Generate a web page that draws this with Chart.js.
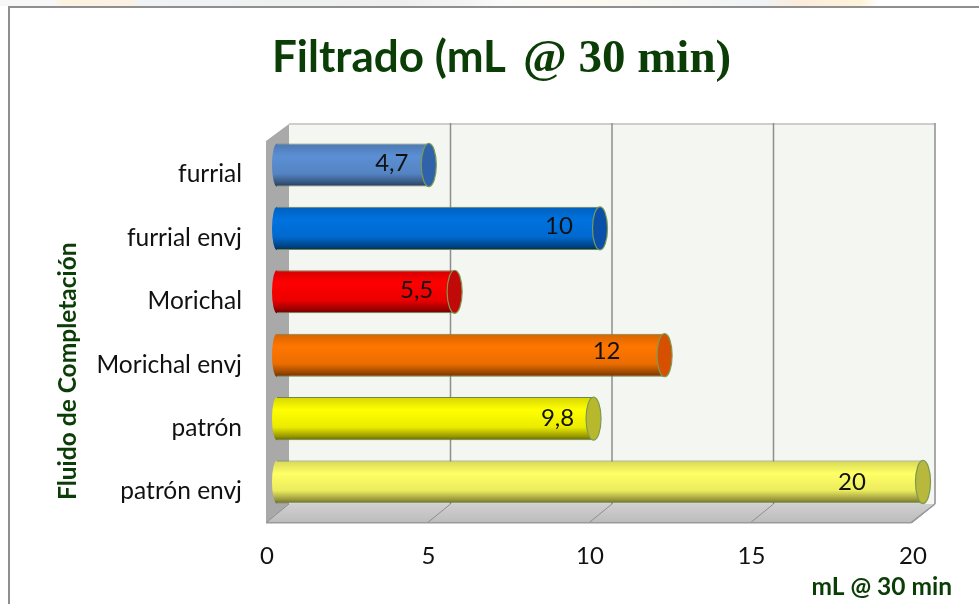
<!DOCTYPE html>
<html>
<head>
<meta charset="utf-8">
<title>Filtrado</title>
<script src="https://cdn.jsdelivr.net/npm/chart.js@4"></script>
<style>
    body { margin: 0; background: #fff; }
    #page { position: relative; width: 979px; height: 604px; overflow: hidden; }
    #strip { position: absolute; left: 0; top: 0; width: 979px; height: 6px;
        background: linear-gradient(to right, #f7f7f7 0, #f7f7f7 55px, #fdf3e2 60px, #fbf1e4 130px, #f0f3f4 140px, #eeeeee 400px, #f4f4f4 470px, #fafafa 500px, #fbf9f0 600px, #f0f3f6 760px, #fbecdc 800px, #fdf3da 860px, #ffffff 880px); }
    #frame { position: absolute; left: 8px; top: 6px; width: 980px; height: 610px; border-left: 2px solid #8f8f8f; border-top: 2px solid #8f8f8f; }
    canvas { position: absolute; left: 0; top: 0; }
</style>
</head>
<body>
<div id="page">
    <div id="strip"></div>
    <div id="frame"></div>
    <canvas id="chartFiltrado" width="979" height="604"></canvas>
</div>
<script>
var categories = ['furrial', 'furrial envj', 'Morichal', 'Morichal envj', 'patrón', 'patrón envj'];
var filtrado = [4.7, 10, 5.5, 12, 9.8, 20];
var xTicks = [0, 5, 10, 15, 20];
var barColors = ['#5b8fd4', '#0072e0', '#ff0000', '#ff7600', '#ffff00', '#ffff66'];
var capColors = ['#2f62a8', '#0a50a8', '#c00a0a', '#d65000', '#b8b82c', '#b8b83c'];

var DARK_GREEN = '#0b3d06';
var BAR_PERCENT = 0.68;
var CAP_RX = 7.5;
var BULGE_RX = 5;
var BACK_SHIFT = 12;
var FRONT_SHIFT = -11;
var labelShift = [-37, -41, -38, -58, -36, -71];
var labelRise = [-2, -2, -2, -4, 0, 0];

function mixBlack(hex, amount) {
    var n = parseInt(hex.slice(1), 16);
    var r = Math.round((n >> 16 & 255) * (1 - amount));
    var g = Math.round((n >> 8 & 255) * (1 - amount));
    var b = Math.round((n & 255) * (1 - amount));
    return 'rgb(' + r + ',' + g + ',' + b + ')';
}

function cylinderFill(ctx) {
    var chart = ctx.chart;
    var scale = chart.scales.y;
    if (!scale || !chart.chartArea) {
        return barColors[ctx.dataIndex];
    }
    var mid = scale.getPixelForValue(ctx.dataIndex);
    var half = scale.getPixelForValue(1) - scale.getPixelForValue(0);
    half = half * BAR_PERCENT / 2;
    var color = barColors[ctx.dataIndex];
    var gradient = chart.ctx.createLinearGradient(0, mid - half, 0, mid + half);
    gradient.addColorStop(0, mixBlack(color, 0.16));
    gradient.addColorStop(0.3, mixBlack(color, 0));
    gradient.addColorStop(0.7, mixBlack(color, 0.08));
    gradient.addColorStop(0.92, mixBlack(color, 0.42));
    gradient.addColorStop(1, mixBlack(color, 0.6));
    return gradient;
}

function polygon(ctx, points, fill) {
    ctx.beginPath();
    points.forEach(function(p, i) {
        if (i === 0) {
            ctx.moveTo(p[0], p[1]);
        } else {
            ctx.lineTo(p[0], p[1]);
        }
    });
    ctx.closePath();
    ctx.fillStyle = fill;
    ctx.fill();
}

// walls and floor of the 3d box, placed from the x scale
var boxPlugin = {
    id: 'box',
    beforeDatasetsDraw: function(chart) {
        var ctx = chart.ctx;
        var area = chart.chartArea;
        var x = chart.scales.x;
        var wallTop = area.top - 9.3;
        var wallBottom = area.bottom - 9.7;
        var floorFront = area.bottom + 9;
        var backLeft = x.getPixelForValue(0) + BACK_SHIFT;
        var backRight = x.getPixelForValue(20) + BACK_SHIFT;
        var frontLeft = x.getPixelForValue(0) + FRONT_SHIFT;
        var frontRight = x.getPixelForValue(20) + FRONT_SHIFT - 1;

        ctx.save();
        polygon(ctx, [[backLeft, wallTop], [backRight, wallTop], [backRight, wallBottom], [backLeft, wallBottom]], '#f3f6f1');
        ctx.fillStyle = '#cdcdcd';
        ctx.fillRect(backLeft, wallTop - 1, backRight - backLeft, 2);

        var floor = ctx.createLinearGradient(0, wallBottom, 0, floorFront);
        floor.addColorStop(0, '#d0d0d0');
        floor.addColorStop(1, '#bcbcbc');
        polygon(ctx, [[backLeft, wallBottom], [backRight, wallBottom], [frontRight, floorFront], [frontLeft, floorFront]], floor);
        polygon(ctx, [[frontLeft, wallTop + 17], [backLeft, wallTop], [backLeft, wallBottom], [frontLeft, floorFront]], '#a9a9a9');

        ctx.strokeStyle = '#8e8e8e';
        xTicks.forEach(function(tick) {
            var px = x.getPixelForValue(tick);
            if (tick > 0) {
                ctx.lineWidth = 1.5;
                ctx.beginPath();
                ctx.moveTo(px + BACK_SHIFT, wallTop - 1);
                ctx.lineTo(px + BACK_SHIFT, wallBottom);
                ctx.stroke();
            }
            ctx.lineWidth = 1;
            ctx.beginPath();
            ctx.moveTo(px + BACK_SHIFT, wallBottom);
            ctx.lineTo(px + FRONT_SHIFT, floorFront);
            ctx.stroke();
        });
        ctx.lineWidth = 1.5;
        ctx.strokeStyle = '#9a9a9a';
        ctx.beginPath();
        ctx.moveTo(frontLeft, floorFront);
        ctx.lineTo(frontRight, floorFront);
        ctx.lineTo(backRight, wallBottom);
        ctx.stroke();
        ctx.restore();
    }
};

// round ends of the cylinders, then the value labels over them
var cylinderPlugin = {
    id: 'cylinder',
    afterDatasetsDraw: function(chart) {
        var ctx = chart.ctx;
        var meta = chart.getDatasetMeta(0);

        ctx.save();
        meta.data.forEach(function(bar, i) {
            var half = bar.height / 2;
            var base = chart.scales.x.getPixelForValue(0);

            ctx.beginPath();
            ctx.ellipse(base, bar.y, BULGE_RX, half, 0, Math.PI / 2, Math.PI * 1.5);
            ctx.fillStyle = bar.options.backgroundColor;
            ctx.fill();

            ctx.beginPath();
            ctx.ellipse(bar.x, bar.y, CAP_RX, half, 0, 0, Math.PI * 2);
            ctx.fillStyle = capColors[i];
            ctx.fill();
            ctx.lineWidth = 1.2;
            ctx.strokeStyle = '#7c9a52';
            ctx.stroke();
        });

        ctx.fillStyle = '#111';
        ctx.font = '24px Lato';
        ctx.textAlign = 'center';
        ctx.textBaseline = 'middle';
        meta.data.forEach(function(bar, i) {
            ctx.fillText(filtrado[i].toLocaleString('es'), bar.x + labelShift[i], bar.y + labelRise[i]);
        });
        ctx.restore();
    }
};

// title has two fonts and the axis titles sit off centre, so they are set here
var titlesPlugin = {
    id: 'titles',
    afterDraw: function(chart) {
        var ctx = chart.ctx;
        ctx.save();
        ctx.fillStyle = DARK_GREEN;
        ctx.textBaseline = 'alphabetic';
        ctx.textAlign = 'left';
        ctx.font = 'bold 44px Lato';
        ctx.fillText('Filtrado (mL', 272, 72);
        ctx.font = 'bold 47px "Liberation Serif"';
        ctx.fillText('@ 30 min)', 523, 72);

        ctx.font = 'bold 24.5px Lato';
        ctx.textAlign = 'right';
        ctx.fillText('mL @ 30 min', 952, 595);

        ctx.translate(76, 500);
        ctx.rotate(-Math.PI / 2);
        ctx.textAlign = 'left';
        ctx.fillText('Fluido de Completación', 0, 0);
        ctx.restore();
    }
};

new Chart(document.getElementById('chartFiltrado'), {
    type: 'bar',
    plugins: [boxPlugin, cylinderPlugin, titlesPlugin],
    data: {
        labels: categories,
        datasets: [{
            data: filtrado,
            backgroundColor: cylinderFill,
            borderColor: '#6f8450',
            borderWidth: { top: 1, bottom: 1, left: 0, right: 0 },
            borderSkipped: false,
            barPercentage: BAR_PERCENT,
            categoryPercentage: 1
        }]
    },
    options: {
        indexAxis: 'y',
        responsive: false,
        animation: false,
        layout: {
            padding: { left: 0, right: 56, top: 133.3, bottom: 0 }
        },
        plugins: {
            legend: { display: false },
            title: { display: false },
            tooltip: { enabled: false }
        },
        scales: {
            x: {
                min: 0,
                max: 20,
                afterFit: function(scale) {
                    scale.height = 90.3;
                },
                afterBuildTicks: function(scale) {
                    scale.ticks = xTicks.map(function(v) {
                        return { value: v };
                    });
                },
                grid: { display: false },
                border: { display: false },
                ticks: {
                    padding: 20,
                    maxRotation: 0,
                    labelOffset: -10,
                    color: '#111',
                    font: { family: 'Lato', size: 24 }
                }
            },
            y: {
                afterFit: function(scale) {
                    scale.width = 277;
                },
                grid: { display: false },
                border: { display: false },
                ticks: {
                    padding: 27,
                    labelOffset: 9.5,
                    color: '#111',
                    font: { family: 'Lato', size: 24.5 }
                }
            }
        }
    }
});
</script>
</body>
</html>
